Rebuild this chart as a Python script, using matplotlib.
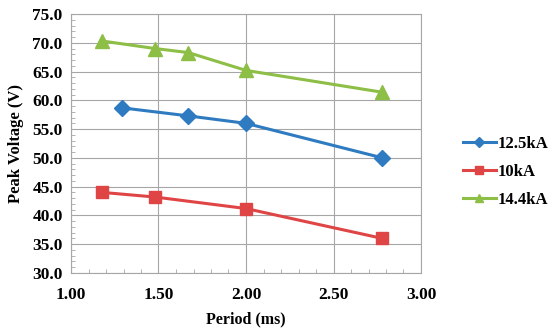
import matplotlib.pyplot as plt
from matplotlib.ticker import MultipleLocator, FormatStrFormatter

# Dados
per_125 = [1.29, 1.67, 2.00, 2.78]
v_125 = [58.7, 57.3, 56.0, 50.0]

per_10 = [1.18, 1.48, 2.00, 2.78]
v_10 = [44.0, 43.2, 41.2, 36.0]

per_144 = [1.18, 1.48, 1.67, 2.00, 2.78]
v_144 = [70.3, 69.0, 68.3, 65.2, 61.4]

plt.rcParams['font.family'] = ['Liberation Serif', 'DejaVu Serif']
plt.rcParams['font.weight'] = 'bold'

fig = plt.figure(figsize=(5.5, 3.29), dpi=100)
ax = fig.add_axes([71/550, 1 - 273/329, 350/550, 259/329])

ax.plot(per_125, v_125, color='#2F7BC1', lw=2.2, marker='D', ms=8.5, label='12.5kA')
ax.plot(per_10, v_10, color='#E04545', lw=2.2, marker='s', ms=9, label='10kA')
ax.plot(per_144, v_144, color='#8DBE45', lw=2.2, marker='^', ms=10, label='14.4kA')

ax.set_xlim(1.0, 3.0)
ax.set_ylim(30, 75)
ax.xaxis.set_major_locator(MultipleLocator(0.5))
ax.xaxis.set_minor_locator(MultipleLocator(0.1))
ax.yaxis.set_major_locator(MultipleLocator(5))
ax.yaxis.set_minor_locator(MultipleLocator(1))
ax.xaxis.set_major_formatter(FormatStrFormatter('%.2f'))
ax.yaxis.set_major_formatter(FormatStrFormatter('%.1f'))

ax.grid(True, which='major', color='#A6A6A6', lw=0.8)
ax.set_axisbelow(True)
for s in ax.spines.values():
    s.set_color('#A6A6A6')
ax.tick_params(which='major', length=0, labelsize=12.5)
ax.tick_params(axis='x', which='major', pad=10)
ax.tick_params(axis='y', which='major', pad=6)
ax.tick_params(which='minor', direction='in', length=3, color='#A6A6A6')

ax.set_xlabel('Period (ms)', fontsize=11.5, fontweight='bold', labelpad=6)
ax.set_ylabel('Peak Voltage (V)', fontsize=12, fontweight='bold', labelpad=6)

leg = ax.legend(loc='center left', bbox_to_anchor=(1.10, 0.39), frameon=False,
                fontsize=12, handlelength=2.0, labelspacing=0.7, markerscale=0.6,
                handletextpad=0.1, borderpad=0.2, borderaxespad=0.2)

fig.savefig('out.png', dpi=100)
